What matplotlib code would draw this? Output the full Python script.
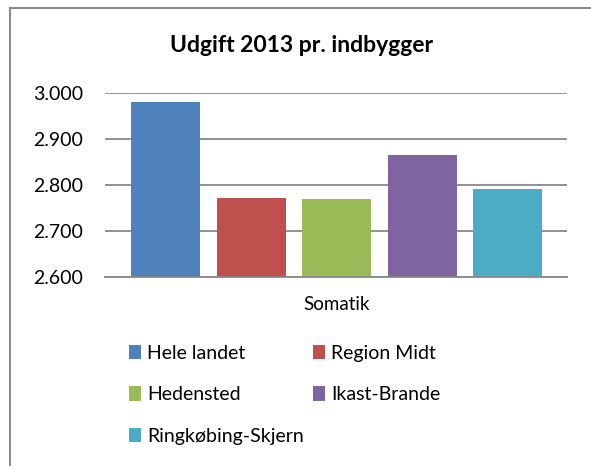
import matplotlib
matplotlib.use("Agg")
import matplotlib.pyplot as plt
from matplotlib.patches import Rectangle, Patch
import numpy as np

plt.rcParams['font.family'] = ['Lato', 'DejaVu Sans']

title = "Udgift 2013 pr. indbygger"
category = "Somatik"
series = ["Hele landet", "Region Midt", "Hedensted", "Ikast-Brande", "Ringkøbing-Skjern"]
values = [2980, 2771, 2769, 2865, 2791]
colors = ["#4F81BD", "#C0504D", "#9BBB59", "#8064A2", "#4BACC6"]
yticks = [2600, 2700, 2800, 2900, 3000]
ytick_labels = ["2.600", "2.700", "2.800", "2.900", "3.000"]

W, H = 591, 466
fig = plt.figure(figsize=(W / 100, H / 100), dpi=100)

# outer chart border (clipped at right/bottom as in reference)
fig.patches.append(Rectangle((10 / W, -0.1), 1.2, 1 - 8 / H + 0.1,
                             transform=fig.transFigure, fill=False,
                             edgecolor="#8c8c8c", linewidth=1.5))

ax = fig.add_axes([105 / W, 1 - 276.7 / H, (567 - 105) / W, (276.7 - 93.3) / H])
n = len(series)
xpos = np.arange(n)
for i in range(n):
    ax.bar(xpos[i], values[i] - yticks[0], bottom=yticks[0], width=0.807,
           color=colors[i], label=series[i], zorder=3)

ax.set_xlim(-0.708, 4.696)
ax.set_ylim(yticks[0], yticks[-1])
ax.set_yticks(yticks)
ax.set_yticklabels(ytick_labels, fontsize=14, color="#000000")
ax.set_xticks([(n - 1) / 2])
ax.set_xticklabels([category], fontsize=13.5)
ax.tick_params(axis='both', length=0)
ax.tick_params(axis='y', pad=16)
ax.tick_params(axis='x', pad=14)
ax.yaxis.grid(True, color="#888888", linewidth=1.3, zorder=0)
for s in ["top", "right", "left"]:
    ax.spines[s].set_visible(False)
ax.spines["bottom"].set_color("#888888")
ax.spines["bottom"].set_linewidth(1.3)
ax.spines["bottom"].set_zorder(4)

fig.text(302 / W, 1 - 45 / H, title, ha="center", va="center",
         fontsize=16.5, fontweight="bold")

order = [0, 2, 4, 1, 3]
handles = [Patch(facecolor=colors[i], edgecolor="none") for i in order]
labels = [series[i] for i in order]
fig.legend(handles, labels, loc="upper left",
           bbox_to_anchor=(129 / W, 1 - 345 / H), ncol=2, frameon=False,
           fontsize=14, handlelength=0.62, handleheight=0.75,
           handletextpad=0.33, columnspacing=0.45, labelspacing=1.25,
           borderaxespad=0, borderpad=0)

fig.savefig("out.png", dpi=100)
